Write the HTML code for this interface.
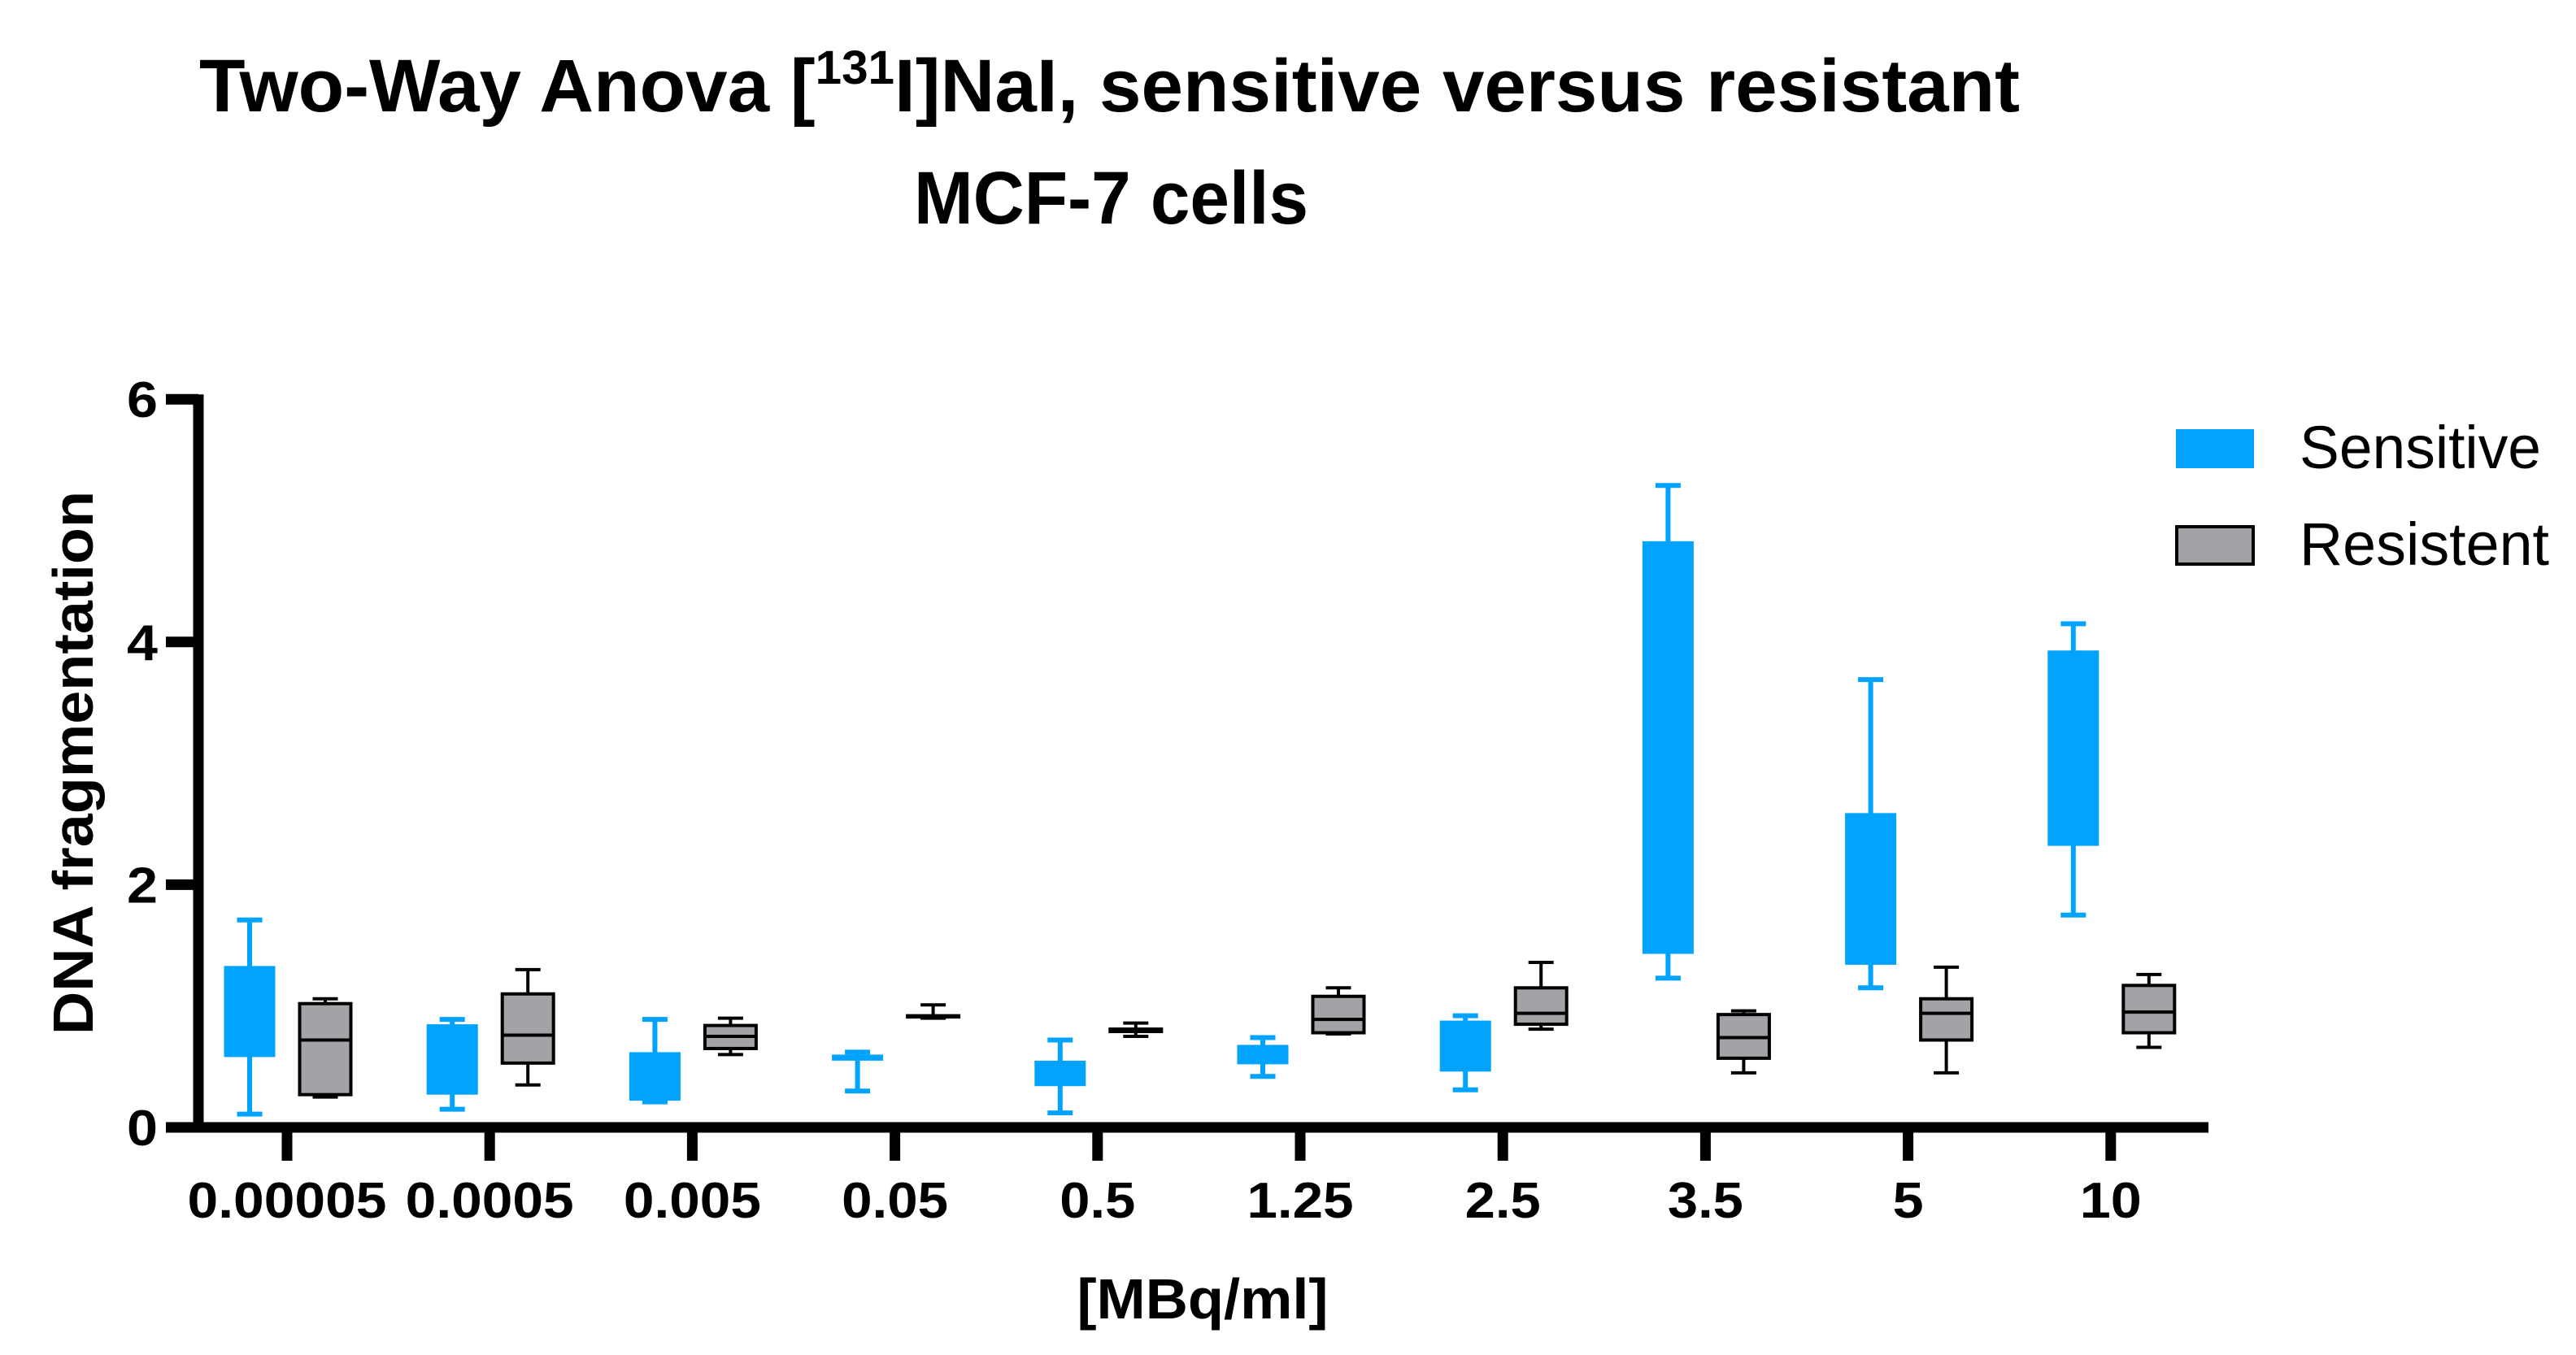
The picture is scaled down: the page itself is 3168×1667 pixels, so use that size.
<!DOCTYPE html>
<html><head><meta charset="utf-8"><style>
html,body{margin:0;padding:0;background:#fff}
svg{display:block}
text{font-family:"Liberation Sans",sans-serif}
</style></head><body>
<svg id="chart" width="3168" height="1667" viewBox="0 0 3168 1667" xmlns="http://www.w3.org/2000/svg">
<text x="245" y="137" font-size="92" font-weight="bold" textLength="2239" lengthAdjust="spacingAndGlyphs">Two-Way Anova [<tspan font-size="58" dy="-34">131</tspan><tspan dy="34">I]NaI, sensitive versus resistant</tspan></text>
<text x="1124" y="275" font-size="92" font-weight="bold" textLength="485" lengthAdjust="spacingAndGlyphs">MCF-7 cells</text>
<text transform="translate(114,1273) rotate(-90)" font-size="70" font-weight="bold" textLength="669" lengthAdjust="spacingAndGlyphs">DNA fragmentation</text>
<text x="1479" y="1622" font-size="70" font-weight="bold" text-anchor="middle" textLength="309" lengthAdjust="spacingAndGlyphs">[MBq/ml]</text>
<g id="axes"></g>
<g id="marks"></g>
<g>
<rect x="2676" y="528" width="96" height="48" fill="#02a3fd"/>
<text x="2828" y="576" font-size="74" textLength="297" lengthAdjust="spacingAndGlyphs">Sensitive</text>
<rect x="2677" y="648" width="94" height="46" fill="#a3a3a7" stroke="#000" stroke-width="4"/>
<text x="2828" y="695" font-size="74" textLength="307" lengthAdjust="spacingAndGlyphs">Resistent</text>
</g>
</svg>
<script>
const categories = ["0.00005","0.0005","0.005","0.05","0.5","1.25","2.5","3.5","5","10"];
const yTicks = [0,2,4,6];
// [whiskerLow, q1, median, q3, whiskerHigh]
const sensitive = [
 [0.11,0.58,0.95,1.33,1.71],[0.15,0.27,0.55,0.85,0.89],[0.21,0.22,0.40,0.62,0.89],
 [0.30,0.55,0.57,0.60,0.62],[0.12,0.34,0.45,0.55,0.72],[0.42,0.52,0.60,0.68,0.74],
 [0.31,0.46,0.70,0.88,0.92],[1.23,1.43,3.00,4.83,5.29],[1.15,1.34,2.00,2.59,3.69],
 [1.75,2.32,3.10,3.93,4.15]];
const resistent = [
 [0.25,0.27,0.72,1.02,1.06],[0.35,0.53,0.76,1.10,1.30],[0.60,0.65,0.75,0.84,0.90],
 [0.90,0.91,0.915,0.92,1.01],[0.75,0.79,0.80,0.81,0.86],[0.77,0.78,0.89,1.08,1.15],
 [0.81,0.85,0.94,1.15,1.36],[0.45,0.57,0.74,0.93,0.96],[0.45,0.72,0.94,1.06,1.32],
 [0.66,0.78,0.95,1.17,1.26]];

const NS="http://www.w3.org/2000/svg";
const y0=1387, pxPerUnit=149.3, x0=353, step=249.2, axisLeft=244;
const yScale=v=>y0-v*pxPerUnit;
const xScale=i=>x0+i*step;
function mk(tag,attrs,parent){const e=document.createElementNS(NS,tag);for(const k in attrs)e.setAttribute(k,attrs[k]);parent.appendChild(e);return e;}
function labelLen(s){let n=0;for(const ch of s)n+=(ch==='.')?17:38;return n;}
const axes=document.getElementById('axes'), marks=document.getElementById('marks');

const ya=mk('line',{x1:axisLeft,y1:yScale(6)-6,x2:axisLeft,y2:y0+6,stroke:'#000','stroke-width':13},axes);


const xa=mk('line',{x1:axisLeft-38,y1:y0,x2:2716,y2:y0,stroke:'#000','stroke-width':13},axes);


yTicks.forEach(t=>{
 const l=mk('line',{x1:axisLeft-40,y1:yScale(t),x2:axisLeft,y2:yScale(t),stroke:'#000','stroke-width':13},axes);
 
 
 const tx=mk('text',{x:194,y:yScale(t)+22,'font-size':62,'font-weight':'bold','text-anchor':'end',textLength:labelLen(String(t)),lengthAdjust:'spacingAndGlyphs'},axes);
 tx.textContent=t;
 
 
});
categories.forEach((c,i)=>{
 const x=xScale(i);
 const l=mk('line',{x1:x,y1:y0,x2:x,y2:1428,stroke:'#000','stroke-width':13},axes);
 
 
 const tx=mk('text',{x:x,y:1498,'font-size':62,'font-weight':'bold','text-anchor':'middle',textLength:labelLen(c),lengthAdjust:'spacingAndGlyphs'},axes);
 tx.textContent=c;
 
 
});
function box(d,cx,isSens,name){
 const g=mk('g',{},marks);
 
 
 const col=isSens?'#02a3fd':'#000', sw=isSens?6:4, w=63, cap=31;
 const [lo,q1,med,q3,hi]=d.map(yScale);
 mk('line',{x1:cx,y1:hi,x2:cx,y2:lo,stroke:col,'stroke-width':sw},g);
 mk('line',{x1:cx-cap/2,y1:hi,x2:cx+cap/2,y2:hi,stroke:col,'stroke-width':sw},g);
 mk('line',{x1:cx-cap/2,y1:lo,x2:cx+cap/2,y2:lo,stroke:col,'stroke-width':sw},g);
 if(isSens){
  mk('rect',{x:cx-w/2,y:q3,width:w,height:Math.max(q1-q3,3),fill:'#02a3fd'},g);
 } else {
  mk('rect',{x:cx-w/2,y:q3,width:w,height:Math.max(q1-q3,0.5),fill:'#a3a3a7',stroke:'#000','stroke-width':4},g);
  mk('line',{x1:cx-w/2,y1:med,x2:cx+w/2,y2:med,stroke:'#000','stroke-width':4},g);
 }
}
categories.forEach((c,i)=>{
 box(sensitive[i],xScale(i)-46,true,'box-sensitive-'+c);
 box(resistent[i],xScale(i)+47,false,'box-resistent-'+c);
});
</script>
</body></html>
